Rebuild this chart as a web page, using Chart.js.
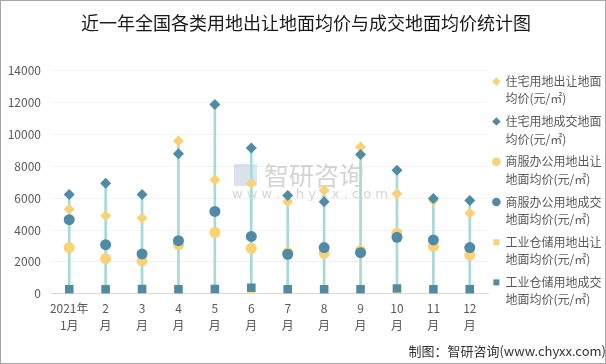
<!DOCTYPE html>
<html>
<head>
<meta charset="utf-8">
<script src="https://cdn.jsdelivr.net/npm/chart.js@4.4.1/dist/chart.umd.min.js"></script>
<style>
  html, body { margin: 0; padding: 0; background: #fff; }
  #wrap { width: 606px; height: 364px; position: relative; }
</style>
</head>
<body>
<div id="wrap"><canvas id="myChart" width="606" height="364"></canvas></div>

<script>
// months on the x axis
var monthLabels = [['2021年', '1月'], ['2', '月'], ['3', '月'], ['4', '月'], ['5', '月'], ['6', '月'],
                   ['7', '月'], ['8', '月'], ['9', '月'], ['10', '月'], ['11', '月'], ['12', '月']];

// prices, yuan per square metre
var resGrant = [5300, 4900, 4750, 9580, 7150, 6920, 5770, 6480, 9210, 6270, 5850, 5060];
var resDeal  = [6230, 6940, 6230, 8790, 11880, 9150, 6170, 5770, 8730, 7750, 5980, 5850];
var comGrant = [2900, 2210, 2060, 3080, 3850, 2850, 2580, 2540, 2710, 3810, 2980, 2420];
var comDeal  = [4650, 3080, 2500, 3330, 5170, 3600, 2480, 2900, 2580, 3540, 3380, 2900];
var indGrant = [250, 240, 260, 250, 240, 330, 250, 240, 250, 300, 240, 250];
var indDeal  = [290, 280, 300, 290, 300, 380, 290, 290, 290, 340, 290, 290];

var yTicks = [0, 2000, 4000, 6000, 8000, 10000, 12000, 14000];

var seriesNames = [
    ['住宅用地出让地面', '均价(元/㎡)'],
    ['住宅用地成交地面', '均价(元/㎡)'],
    ['商服办公用地出让', '地面均价(元/㎡)'],
    ['商服办公用地成交', '地面均价(元/㎡)'],
    ['工业仓储用地出让', '地面均价(元/㎡)'],
    ['工业仓储用地成交', '地面均价(元/㎡)']
];

var yellow = '#f8d274';
var blue = '#508ba5';

// high-low line per month, from the lowest to the highest value
var allSeries = [resGrant, resDeal, comGrant, comDeal, indGrant, indDeal];
var hiLo = monthLabels.map(function(m, i) {
    var vals = allSeries.map(function(s) { return s[i]; });
    return [Math.min.apply(null, vals), Math.max.apply(null, vals)];
});

function pointSet(idx, data, color, style, radius) {
    return {
        type: 'line',
        label: seriesNames[idx].join(''),
        legendText: seriesNames[idx],
        data: data,
        showLine: false,
        pointStyle: style,
        pointRadius: radius,
        pointHoverRadius: radius,
        pointBackgroundColor: color,
        pointBorderColor: color,
        pointBorderWidth: 0,
        backgroundColor: color,
        borderColor: color,
        order: 10 - idx
    };
}

var frame = {
    id: 'frame',
    beforeDatasetsDraw: function(chart) {
        var ctx = chart.ctx;
        ctx.save();
        // watermark
        ctx.fillStyle = 'rgba(170,180,205,0.4)';
        ctx.fillRect(234, 164, 16, 22);
        ctx.fillStyle = 'rgba(130,180,225,0.3)';
        ctx.fillRect(251, 164, 6, 22);
        ctx.fillStyle = 'rgba(160,160,160,0.45)';
        ctx.font = '25px "Noto Sans CJK SC"';
        ctx.textBaseline = 'middle';
        ctx.fillText('智研咨询', 264, 175);
        ctx.font = '13px "DejaVu Sans"';
        ctx.fillText('w w w . c h y x x . c o m', 232, 195);
        ctx.restore();
    },
    afterDraw: function(chart) {
        var ctx = chart.ctx;
        ctx.save();
        ctx.strokeStyle = '#a6a6a6';
        ctx.lineWidth = 1;
        ctx.strokeRect(0.5, 0.5, chart.width - 1, chart.height - 1);
        ctx.restore();
    }
};

var ctx = document.getElementById('myChart').getContext('2d');
var myChart = new Chart(ctx, {
    type: 'bar',
    data: {
        labels: monthLabels,
        datasets: [
            {
                type: 'bar',
                label: 'hilo',
                data: hiLo,
                backgroundColor: '#a5dad9',
                barThickness: 2,
                order: 20
            },
            pointSet(0, resGrant, yellow, 'rectRot', 5.5),
            pointSet(1, resDeal, blue, 'rectRot', 5.5),
            pointSet(2, comGrant, yellow, 'circle', 5.5),
            pointSet(3, comDeal, blue, 'circle', 5.5),
            pointSet(4, indGrant, yellow, 'rect', 6),
            pointSet(5, indDeal, blue, 'rect', 6)
        ]
    },
    plugins: [frame],
    options: {
        responsive: false,
        animation: false,
        layout: { padding: { left: 6, right: 0, top: 0, bottom: 0 } },
        plugins: {
            title: {
                display: true,
                text: '近一年全国各类用地出让地面均价与成交地面均价统计图',
                color: '#1a1a1a',
                font: { family: '"Noto Sans CJK SC"', size: 18, weight: 'normal' },
                padding: { top: 12, bottom: 37 }
            },
            subtitle: {
                display: true,
                position: 'bottom',
                align: 'end',
                text: '制图：智研咨询(www.chyxx.com)',
                color: '#333',
                font: { family: '"Noto Sans CJK SC"', size: 13 },
                padding: { top: 4, bottom: 5 }
            },
            legend: {
                position: 'right',
                align: 'start',
                maxWidth: 118,
                title: {
                    display: true,
                    text: ' ',
                    font: { size: 10, lineHeight: 1.2 },
                    padding: { top: 58, bottom: 0 }
                },
                labels: {
                    usePointStyle: true,
                    boxWidth: 6,
                    boxHeight: 6,
                    padding: 5.4,
                    color: '#595959',
                    font: { family: '"Noto Sans CJK SC"', size: 12, lineHeight: 1.45 },
                    filter: function(item) { return item.datasetIndex > 0; },
                    sort: function(a, b) { return a.datasetIndex - b.datasetIndex; },
                    generateLabels: function(chart) {
                        var items = Chart.defaults.plugins.legend.labels.generateLabels(chart);
                        items.forEach(function(it) {
                            var ds = chart.data.datasets[it.datasetIndex];
                            if (ds.legendText) it.text = ds.legendText;
                        });
                        return items;
                    }
                }
            },
            tooltip: { enabled: false }
        },
        scales: {
            x: {
                offset: true,
                grid: { display: false, drawTicks: false },
                border: { color: '#d9d9d9' },
                ticks: {
                    color: '#595959',
                    font: { family: '"Noto Sans CJK SC"', size: 12, lineHeight: 1.4 },
                    padding: 6,
                    maxRotation: 0,
                    autoSkip: false
                }
            },
            y: {
                min: 0,
                max: 14000,
                afterBuildTicks: function(axis) {
                    axis.ticks = yTicks.map(function(v) { return { value: v }; });
                },
                afterFit: function(axis) { axis.width = 45; },
                grid: { color: '#f2f2f2', drawTicks: false },
                border: { display: false },
                ticks: {
                    color: '#595959',
                    font: { family: '"Noto Sans CJK SC"', size: 12 },
                    padding: 10,
                    callback: function(v) { return String(v); }
                }
            }
        }
    }
});
</script>
</body>
</html>
